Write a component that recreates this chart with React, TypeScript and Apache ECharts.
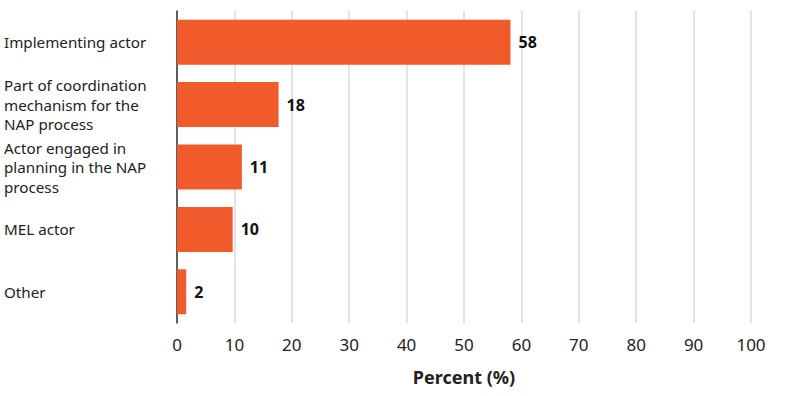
import React, { useEffect, useRef } from "react";
import * as echarts from "echarts";

const categories = [
  "Implementing actor",
  "Part of coordination\nmechanism for the\nNAP process",
  "Actor engaged in\nplanning in the NAP\nprocess",
  "MEL actor",
  "Other",
];
const values = [58.1, 17.7, 11.3, 9.7, 1.6];
const xTicks = { min: 0, max: 100, interval: 10 };
const axisTitle = "Percent (%)";

const FONT = "'Noto Sans', sans-serif";

export default function App() {
  const ref = useRef<HTMLDivElement>(null);
  useEffect(() => {
    if (!ref.current) return;
    const chart = echarts.init(ref.current, undefined, { renderer: "svg" });
    chart.setOption({
      animation: false,
      grid: { left: 177, right: 34, top: 11, bottom: 73 },
      xAxis: {
        type: "value",
        min: xTicks.min,
        max: xTicks.max,
        interval: xTicks.interval,
        name: axisTitle,
        nameLocation: "middle",
        nameGap: 45,
        nameTextStyle: { fontFamily: FONT, fontSize: 18, fontWeight: "bold", color: "#222" },
        axisLine: { show: false },
        axisTick: { show: false },
        axisLabel: { fontFamily: FONT, fontSize: 17, color: "#222", margin: 13 },
        splitLine: { show: true, lineStyle: { color: "#dadada", width: 1.5 } },
      },
      yAxis: {
        type: "category",
        data: categories,
        inverse: true,
        axisLine: { show: true, lineStyle: { color: "#333", width: 1.5 } },
        axisTick: { show: false },
        axisLabel: {
          fontFamily: FONT,
          fontSize: 15.2,
          color: "#222",
          align: "left",
          margin: 173,
          lineHeight: 19.5,
        },
      },
      series: [
        {
          type: "bar",
          data: values,
          barWidth: 45,
          itemStyle: { color: "#F15A2B" },
          label: {
            show: true,
            position: "right",
            distance: 8,
            fontFamily: FONT,
            fontSize: 16,
            fontWeight: "bold",
            color: "#111",
            formatter: (p: any) => String(Math.round(p.value)),
          },
        },
      ],
    });
    return () => chart.dispose();
  }, []);
  return (
    <div
      ref={ref}
      style={{ position: "fixed", left: 0, top: 0, width: 785, height: 396, background: "#fff" }}
    />
  );
}
